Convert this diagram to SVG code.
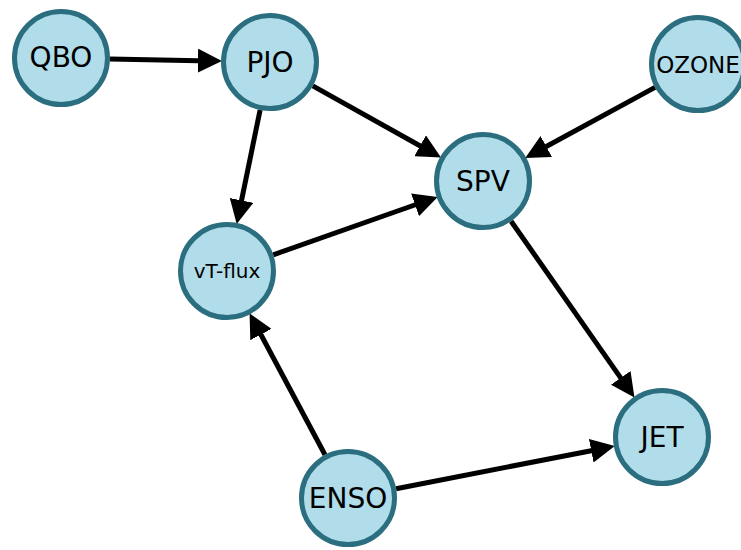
<svg xmlns="http://www.w3.org/2000/svg" width="741" height="550" viewBox="0 0 741 550">
<style>
.node circle{fill:#b0dde9;stroke:#2a6e80;stroke-width:5}
.node text{font-family:"DejaVu Sans",sans-serif;fill:#000;text-anchor:middle}
.edges line{stroke:#000;stroke-width:5;marker-end:url(#arr)}
</style>
<defs>
<marker id="arr" markerUnits="userSpaceOnUse" markerWidth="24" markerHeight="24" viewBox="0 0 22 22" refX="12" refY="11" orient="auto">
<path d="M0,0 L22,11 L0,22 z" fill="#000"/>
</marker>
</defs>
<rect width="741" height="550" fill="#fff"/>
<g class="edges">
<line x1="110" y1="58.9" x2="211" y2="60.9"/>
<line x1="312.8" y1="85.9" x2="431.5" y2="152.2"/>
<line x1="260.1" y1="110" x2="238.9" y2="213.2"/>
<line x1="655" y1="87.4" x2="534.8" y2="152.8"/>
<line x1="273.2" y1="254.8" x2="427.4" y2="200.5"/>
<line x1="511.1" y1="221.2" x2="628.2" y2="388.6"/>
<line x1="325" y1="454.8" x2="254.7" y2="323"/>
<line x1="396.1" y1="488.7" x2="604.1" y2="448.2"/>
</g>
<g id="QBO" class="node"><circle cx="61" cy="58" r="46.5"/><text x="61" y="67" font-size="28">QBO</text></g>
<g id="PJO" class="node"><circle cx="270" cy="62" r="46.5"/><text x="270" y="72" font-size="28">PJO</text></g>
<g id="OZONE" class="node"><circle cx="698" cy="64" r="46.5"/><text x="698" y="73" font-size="23">OZONE</text></g>
<g id="SPV" class="node"><circle cx="483" cy="181" r="46.5"/><text x="483" y="191" font-size="28">SPV</text></g>
<g id="vT-flux" class="node"><circle cx="227" cy="271" r="46.5"/><text x="227" y="278" font-size="20">vT-flux</text></g>
<g id="JET" class="node"><circle cx="662" cy="437" r="46.5"/><text x="662" y="447" font-size="28">JET</text></g>
<g id="ENSO" class="node"><circle cx="348" cy="498" r="46.5"/><text x="348" y="508" font-size="28">ENSO</text></g>
</svg>
